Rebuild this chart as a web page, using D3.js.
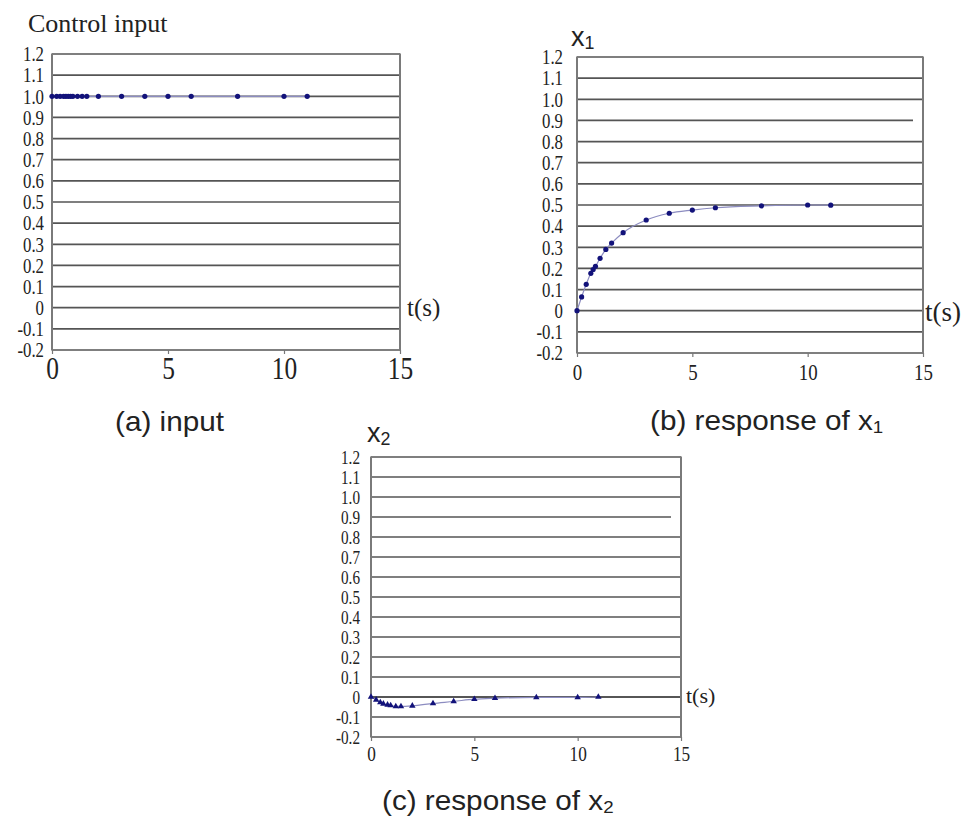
<!DOCTYPE html>
<html><head><meta charset="utf-8">
<script src="https://cdn.jsdelivr.net/npm/d3@7"></script>
<style>body{margin:0;background:#fff}svg{display:block}</style>
</head><body>
<svg id="c" width="967" height="819"></svg>
<script>
// ---- data ----
const yTicks = [-0.2,-0.1,0,0.1,0.2,0.3,0.4,0.5,0.6,0.7,0.8,0.9,1.0,1.1,1.2];
const yTickLabels = ["-0.2","-0.1","0","0.1","0.2","0.3","0.4","0.5","0.6","0.7","0.8","0.9","1.0","1.1","1.2"];
const xTicks = [0,5,10,15];
const xTickLabels = ["0","5","10","15"];

const tInput = [0,0.2,0.35,0.5,0.6,0.7,0.8,0.9,1.1,1.3,1.5,2,3,4,5,6,8,10,11];
const uInput = [1,1,1,1,1,1,1,1,1,1,1,1,1,1,1,1,1,1,1];

const tX1 = [0,0.2,0.4,0.6,0.7,0.8,1.0,1.25,1.5,2,3,4,5,6,8,10,11];
const vX1 = [0,0.065,0.125,0.177,0.195,0.21,0.248,0.29,0.32,0.369,0.429,0.461,0.476,0.487,0.496,0.5,0.499];

const tX2 = [0,0.25,0.45,0.6,0.8,0.95,1.2,1.45,2,3,4,5,6,8,10,11];
const vX2 = [0,-0.014,-0.027,-0.034,-0.039,-0.042,-0.047,-0.047,-0.044,-0.032,-0.022,-0.011,-0.006,-0.002,-0.002,0];

const svg = d3.select("#c");
const serif = "'Liberation Serif','Times New Roman',serif";
const sans = "'Liberation Sans',Arial,sans-serif";

function panel(cfg){
  const x = d3.scaleLinear().domain([0,15]).range([cfg.x0,cfg.x1]);
  const y = d3.scaleLinear().domain([-0.2,1.2]).range([cfg.y1,cfg.y0]);
  const g = svg.append("g");
  // horizontal grid
  g.selectAll("line.grid").data(yTicks).join("line")
    .attr("x1",cfg.x0).attr("x2",d=>(cfg.shortNine && d===0.9)?cfg.x1-10:cfg.x1)
    .attr("y1",d=>y(d)).attr("y2",d=>y(d))
    .attr("stroke",d=>(cfg.darkZero && d===0)?"#1e1e1e":"#555")
    .attr("stroke-width",1.7);
  // vertical borders
  [cfg.x0,cfg.x1].forEach(xx=>g.append("line").attr("x1",xx).attr("x2",xx)
    .attr("y1",cfg.y0-0.5).attr("y2",cfg.y1+0.5).attr("stroke","#7a7a7a").attr("stroke-width",2));
  // y axis labels
  const ya = d3.axisLeft(y).tickValues(yTicks).tickSize(0).tickPadding(0)
    .tickFormat((d,i)=>yTickLabels[i]);
  const yg = g.append("g").attr("transform",`translate(${cfg.x0-cfg.yPad},0)`).call(ya);
  yg.select(".domain").remove();
  yg.selectAll("text").style("font-family",serif).style("font-size",cfg.yFont+"px")
    .attr("fill","#222").attr("text-anchor","end").attr("transform","scale(0.8,1)");
  // x axis
  const xa = d3.axisBottom(x).tickValues(xTicks).tickSize(4).tickPadding(cfg.xPad)
    .tickFormat((d,i)=>xTickLabels[i]);
  const xg = g.append("g").attr("transform",`translate(0,${cfg.y1})`).call(xa);
  xg.select(".domain").remove();
  xg.selectAll(".tick line").attr("stroke","#777").attr("stroke-width",1.2);
  xg.selectAll("text").style("font-family",serif).style("font-size",cfg.xFont+"px")
    .attr("fill","#222").attr("transform","scale(0.82,1)");
  // data line
  const pts = cfg.t.map((t,i)=>[t,cfg.v[i]]);
  g.append("path").datum(pts)
    .attr("d",d3.line().x(d=>x(d[0])).y(d=>y(d[1])).curve(d3.curveMonotoneX))
    .attr("fill","none").attr("stroke","#8c8cc0").attr("stroke-width",1.2);
  if(cfg.marker==="tri"){
    g.selectAll("path.m").data(pts).join("path")
      .attr("d",d3.symbol().type(d3.symbolTriangle).size(18))
      .attr("transform",d=>`translate(${x(d[0])},${y(d[1])})`)
      .attr("fill","#12127a");
  } else {
    g.selectAll("circle.m").data(pts).join("circle")
      .attr("cx",d=>x(d[0])).attr("cy",d=>y(d[1])).attr("r",2.6)
      .attr("fill","#12127a");
  }
  // t(s)
  g.append("text").attr("x",cfg.x1+cfg.tsDx).attr("y",y(0)+cfg.tsDy)
    .style("font-family",serif).style("font-size",cfg.tsFont+"px").attr("fill","#222").text("t(s)");
  return {x,y};
}

panel({x0:52,x1:400,y0:54,y1:350,t:tInput,v:uInput,marker:"dot",
  yFont:21,yPad:8,xFont:31,xPad:3,tsFont:25,tsDx:7,tsDy:8});
panel({x0:577,x1:923,y0:57,y1:353,t:tX1,v:vX1,marker:"dot",shortNine:true,
  yFont:21,yPad:14,xFont:23,xPad:7,tsFont:27,tsDx:2,tsDy:10});
panel({x0:371,x1:681,y0:457,y1:737,t:tX2,v:vX2,marker:"tri",darkZero:true,shortNine:true,
  yFont:19,yPad:11,xFont:21,xPad:5,tsFont:22,tsDx:5,tsDy:6});

// titles
svg.append("text").attr("x",28).attr("y",32).style("font-family",serif)
  .style("font-size","26px").attr("fill","#222").text("Control input");
function varLabel(xx,yy,sub,size){
  const t = svg.append("text").attr("x",xx).attr("y",yy).style("font-family",sans)
    .style("font-size",size+"px").attr("fill","#222");
  t.append("tspan").text("x");
  t.append("tspan").style("font-size",(size*0.66)+"px").attr("dy",3).text(sub);
}
varLabel(571,46,"1",27);
varLabel(367,442,"2",27);

// captions
function caption(xx,yy,main,sub){
  const t = svg.append("text").attr("transform",`translate(${xx},${yy}) scale(1.1,1)`)
    .style("font-family",sans).style("font-size","27px").attr("fill","#222");
  t.append("tspan").text(main);
  if(sub) t.append("tspan").style("font-size","17px").attr("dy",3).text(sub);
}
caption(115,431,"(a) input");
caption(650,430,"(b) response of x","1");
caption(382,810,"(c) response of x","2");
</script>
</body></html>
